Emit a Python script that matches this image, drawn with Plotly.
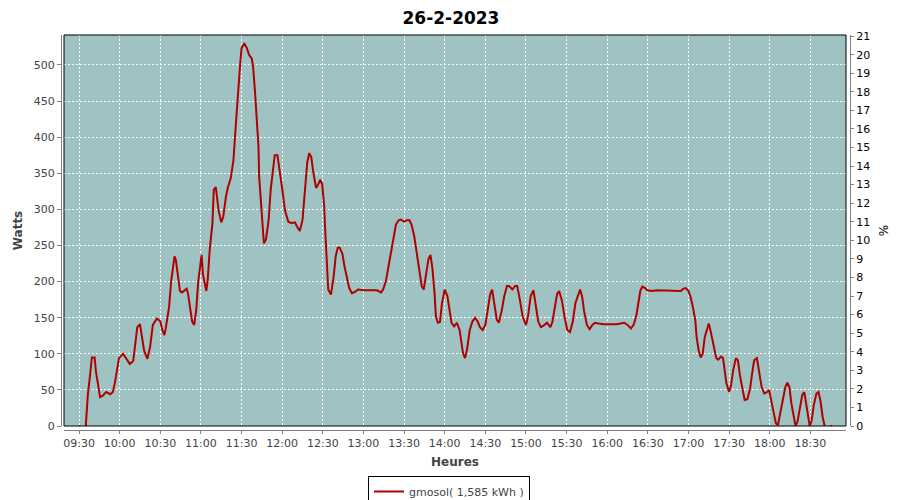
import plotly.graph_objects as go

DAY = "2023-02-26"
TITLE = "26-2-2023"
SERIES_NAME = "gmosol( 1,585 kWh )"

times = [
    "09:30:00", "09:31:00", "09:33:00", "09:35:00", "09:36:30", "09:38:00", "09:39:30", "09:41:30",
    "09:42:30", "09:44:00", "09:45:30", "09:47:30", "09:50:00", "09:53:00", "09:55:00", "09:56:30",
    "09:58:00", "09:59:30", "10:02:30", "10:05:30", "10:07:30", "10:10:00", "10:11:30", "10:13:00",
    "10:15:00", "10:16:30", "10:18:00", "10:19:30", "10:20:30", "10:22:30", "10:24:30", "10:27:30",
    "10:30:00", "10:31:30", "10:33:00", "10:34:00", "10:36:30", "10:38:00", "10:39:30", "10:40:30",
    "10:41:30", "10:43:00", "10:44:30", "10:46:00", "10:48:30", "10:49:30", "10:50:30", "10:52:00",
    "10:53:30", "10:55:00", "10:56:30", "10:58:00", "10:59:30", "11:00:30", "11:01:30", "11:03:00",
    "11:04:00", "11:05:00", "11:06:30", "11:08:30", "11:09:30", "11:11:00", "11:13:00", "11:15:00",
    "11:16:30", "11:18:30", "11:20:00", "11:22:00", "11:24:00", "11:25:30", "11:27:00", "11:29:00",
    "11:30:00", "11:32:00", "11:34:00", "11:35:30", "11:37:30", "11:38:30", "11:40:00", "11:41:00",
    "11:42:30", "11:43:00", "11:44:30", "11:45:30", "11:46:30", "11:48:00", "11:50:00", "11:51:30",
    "11:53:00", "11:54:30", "11:56:30", "11:58:30", "12:00:30", "12:02:00", "12:04:30", "12:07:00",
    "12:09:30", "12:11:00", "12:13:00", "12:15:00", "12:17:00", "12:18:30", "12:20:00", "12:21:30",
    "12:23:00", "12:25:00", "12:26:00", "12:28:00", "12:29:30", "12:31:00", "12:32:00", "12:33:00",
    "12:34:00", "12:36:00", "12:38:00", "12:39:30", "12:41:00", "12:42:30", "12:44:30", "12:46:00",
    "12:47:30", "12:49:30", "12:51:30", "12:54:00", "12:56:00", "13:00:00", "13:05:00", "13:10:00",
    "13:13:00", "13:14:30", "13:16:30", "13:18:30", "13:20:00", "13:22:00", "13:24:00", "13:26:00",
    "13:27:30", "13:30:00", "13:32:00", "13:34:00", "13:35:30", "13:37:30", "13:39:30", "13:41:00",
    "13:43:00", "13:44:30", "13:46:00", "13:48:00", "13:49:30", "13:51:00", "13:52:30", "13:53:30",
    "13:55:00", "13:56:30", "13:58:00", "14:00:00", "14:02:00", "14:03:30", "14:05:00", "14:07:00",
    "14:09:00", "14:11:00", "14:12:30", "14:13:30", "14:15:00", "14:16:30", "14:18:30", "14:20:30",
    "14:22:30", "14:24:30", "14:26:00", "14:28:00", "14:30:00", "14:31:30", "14:33:30", "14:35:00",
    "14:36:30", "14:38:30", "14:40:00", "14:42:00", "14:44:00", "14:46:00", "14:47:30", "14:50:00",
    "14:52:00", "14:53:30", "14:55:30", "14:57:30", "15:00:00", "15:01:30", "15:03:30", "15:05:30",
    "15:07:00", "15:09:00", "15:11:00", "15:13:00", "15:15:30", "15:18:00", "15:19:30", "15:21:30",
    "15:23:00", "15:24:30", "15:26:30", "15:28:30", "15:30:30", "15:32:30", "15:34:30", "15:36:30",
    "15:38:30", "15:40:00", "15:41:30", "15:43:00", "15:45:00", "15:47:00", "15:49:00", "15:51:00",
    "15:53:30", "15:57:00", "16:02:00", "16:07:00", "16:12:30", "16:15:00", "16:17:30", "16:19:30",
    "16:21:30", "16:23:00", "16:24:30", "16:26:00", "16:28:00", "16:29:30", "16:33:00", "16:36:30",
    "16:41:30", "16:46:30", "16:51:30", "16:54:30", "16:56:00", "16:58:00", "17:00:00", "17:01:30",
    "17:03:00", "17:05:00", "17:06:00", "17:07:30", "17:09:00", "17:10:30", "17:12:00", "17:14:00",
    "17:15:00", "17:16:30", "17:18:30", "17:20:30", "17:22:00", "17:24:00", "17:25:30", "17:26:30",
    "17:28:00", "17:30:00", "17:31:30", "17:33:00", "17:35:00", "17:36:30", "17:38:00", "17:40:00",
    "17:41:30", "17:43:30", "17:45:30", "17:47:00", "17:48:30", "17:50:30", "17:52:00", "17:54:00",
    "17:56:00", "17:58:00", "17:59:30", "18:01:00", "18:02:30", "18:04:30", "18:06:00", "18:07:30",
    "18:09:30", "18:11:30", "18:13:00", "18:14:30", "18:16:00", "18:18:00", "18:19:00", "18:20:30",
    "18:22:30", "18:24:00", "18:25:30", "18:26:30", "18:28:30", "18:29:30", "18:31:00", "18:32:30",
    "18:34:30", "18:36:00", "18:37:30", "18:39:00", "18:40:30", "18:42:30", "18:44:30", "18:46:00",
]

watts = [
    0, 0, None, 0, 43, 68, 95, 95,
    75, 58, 40, 42, 47, 44, 47, 60,
    78, 94, 100, 92, 86, 90, 110, 137,
    141, 123, 105, 97, 93, 110, 140, 149,
    145, 133, 126, 135, 165, 200, 225, 235,
    230, 210, 187, 185, 189, 190, 183, 160,
    145, 140, 160, 200, 225, 237, 210, 193,
    187, 202, 244, 281, 327, 331, 299, 282,
    290, 318, 331, 343, 368, 410, 456, 502,
    523, 530, 523, 514, 509, 498, 461, 424,
    387, 345, 304, 276, 253, 258, 285, 327,
    355, 375, 375, 350, 322, 299, 283, 281,
    282, 276, 270, 285, 335, 365, 378, 372,
    351, 330, 332, 341, 335, 305, 263, 226,
    189, 182, 207, 235, 247, 247, 238, 221,
    207, 191, 184, 186, 189, 188, 188, 188,
    185, 189, 200, 221, 240, 263, 279, 285,
    286, 283, 285, 285, 279, 263, 240, 217,
    194, 189, 207, 231, 237, 217, 184, 152,
    143, 144, 170, 189, 180, 159, 143, 138,
    143, 133, 115, 101, 94, 106, 133, 145,
    150, 144, 137, 133, 140, 156, 182, 189,
    170, 147, 143, 159, 180, 194, 194, 189,
    194, 194, 175, 152, 140, 152, 180, 188,
    170, 145, 137, 139, 143, 137, 144, 165,
    183, 187, 174, 151, 133, 130, 144, 170,
    183, 189, 179, 158, 140, 134, 140, 143,
    142, 141, 141, 141, 143, 140, 135, 140,
    153, 174, 188, 193, 191, 188, 187, 188,
    188, 188, 187, 187, 190, 191, 187, 179,
    167, 147, 123, 105, 95, 100, 123, 137,
    142, 130, 110, 94, 92, 96, 94, 77,
    59, 47, 57, 77, 94, 91, 70, 50,
    36, 37, 52, 73, 91, 94, 77, 54,
    45, 47, 50, 36, 18, 4, 1, 15,
    36, 54, 60, 54, 31, 11, 0, 6,
    27, 43, 47, 34, 13, 0, 8, 29,
    45, 47, 34, 13, 0, None, 0, 0,
]

x_range = ["09:18:54", "18:56:18"]
watts_range = [0, 541.5]
pct_range = [0, 21.06]
x_tick0 = "09:30"
x_tick_minutes = 30
watts_tick = 50
pct_tick = 1

x = [f"{DAY} {t}" for t in times]

# The page body has an 8px margin, so the figure is drawn 8px in from the corner.
OFF = 8
W, H = 900 - OFF, 500 - OFF
ml, mr, mt, mb = 61 - OFF, 50, 35 - OFF, 70
pw = W - ml - mr
ph = H - mt - mb
xdom = [(64 - 61) / pw, (846 - 61) / pw]
ydom = [(430 - 426) / ph, 1.0]

FONT = "DejaVu Sans"
GRAY = "#808080"
TXT = "#444444"
BG = "#9EC3C2"

fig = go.Figure()
fig.add_trace(go.Scatter(
    x=x, y=watts, mode="lines", name=SERIES_NAME,
    line=dict(color="#B00000", width=2), connectgaps=False,
))
fig.add_trace(go.Scatter(
    x=[x[0]], y=[None], yaxis="y2", mode="lines", showlegend=False, hoverinfo="skip",
))

fig.update_layout(
    width=W, height=H,
    margin=dict(l=ml, r=mr, t=mt, b=mb, autoexpand=False),
    paper_bgcolor="white",
    plot_bgcolor=BG,
    font=dict(family=FONT, size=11, color=TXT),
    title=dict(text=f"<b>{TITLE}</b>", x=(451 - OFF) / W, xref="container",
               y=1 - 10.5 / H, yref="container", xanchor="center", yanchor="middle",
               font=dict(family=FONT, size=17, color="black")),
    xaxis=dict(
        type="date", domain=xdom, anchor="free", position=0, automargin=False,
        range=[f"{DAY} {x_range[0]}", f"{DAY} {x_range[1]}"],
        tick0=f"{DAY} {x_tick0}", dtick=x_tick_minutes * 60 * 1000, tickformat="%H:%M",
        showline=True, linecolor=GRAY, linewidth=1,
        ticks="outside", ticklen=3, tickcolor=GRAY, tickwidth=1,
        showgrid=True, gridcolor="white", griddash="2px,2px", gridwidth=1,
        zeroline=False, tickfont=dict(family=FONT, size=11, color=TXT),
        title=dict(text="<b>Heures</b>", font=dict(family=FONT, size=12, color=TXT), standoff=8),
    ),
    yaxis=dict(
        domain=ydom, anchor="free", position=0, automargin=False,
        range=watts_range, tick0=0, dtick=watts_tick,
        showline=True, linecolor=GRAY, linewidth=1,
        ticks="outside", ticklen=4, tickcolor=GRAY, tickwidth=1,
        showgrid=True, gridcolor="white", griddash="2px,2px", gridwidth=1,
        zeroline=False, tickfont=dict(family=FONT, size=11, color=TXT),
        title=dict(text="<b>Watts</b>", font=dict(family=FONT, size=12, color=TXT), standoff=7),
    ),
    yaxis2=dict(
        overlaying="y", side="right", anchor="free", position=1, automargin=False,
        range=pct_range, tick0=0, dtick=pct_tick,
        showline=True, linecolor=GRAY, linewidth=1,
        ticks="outside", ticklen=3, tickcolor=GRAY, tickwidth=1,
        showgrid=False, zeroline=False,
        tickfont=dict(family=FONT, size=11, color="black"),
        title=dict(text="%", font=dict(family=FONT, size=12, color="black"), standoff=10),
    ),
    showlegend=True,
    legend=dict(
        orientation="h", x=(449 - 61) / pw, xanchor="center",
        y=(430 - 476) / ph, yanchor="top",
        bordercolor="black", borderwidth=1, bgcolor="white",
        font=dict(family=FONT, size=11, color=TXT),
    ),
    shapes=[dict(
        type="rect", xref="paper", yref="paper",
        x0=xdom[0], x1=xdom[1], y0=ydom[0], y1=1,
        line=dict(color="black", width=1), fillcolor="rgba(0,0,0,0)", layer="above",
    )],
)

fig.write_html("out.html")
